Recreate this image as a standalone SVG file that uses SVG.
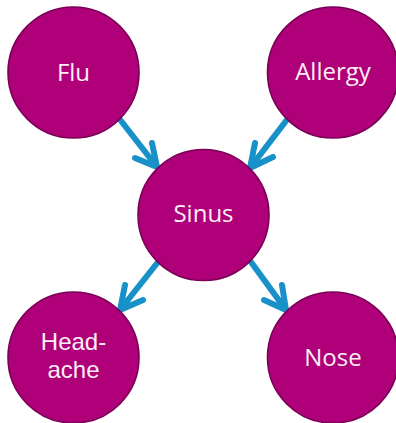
<svg xmlns="http://www.w3.org/2000/svg" width="396" height="423" viewBox="0 0 396 423">
<style>
.node circle{fill:#AF0079;stroke:#7A0056;stroke-width:1.6}
.node text{fill:#FBEFF6;font-family:"Open Sans","Liberation Sans",sans-serif;font-size:24px;text-anchor:middle}
.node text.alt{font-family:"Liberation Sans",Arial,sans-serif;font-size:24px}
.conn path{fill:none;stroke:#1890C8;stroke-width:6;stroke-linecap:round;stroke-linejoin:round}
</style>
<rect width="396" height="423" fill="#fff"/>
<g class="conn" id="connectors">
<path d="M118,117 L157,167 M152,143 L157,167 L135,158"/>
<path d="M289,117 L250,168 M255,143 L250,168 L273,157"/>
<path d="M158,262 L120,310 M125,285 L120,310 L143,300"/>
<path d="M251,262 L286,310 M282,285 L286,310 L264,300"/>
</g>
<g class="node" id="flu"><circle cx="73.5" cy="72.5" r="65.5"/><text x="73.5" y="81">Flu</text></g>
<g class="node" id="allergy"><circle cx="333" cy="72.5" r="65.5"/><text x="333" y="80">Allergy</text></g>
<g class="node" id="sinus"><circle cx="203.5" cy="215" r="65.5"/><text x="203.5" y="222">Sinus</text></g>
<g class="node" id="headache"><circle cx="73.5" cy="357.5" r="65.5"/><text class="alt" x="73.5" y="350">Head-<tspan x="73.5" y="378">ache</tspan></text></g>
<g class="node" id="nose"><circle cx="333" cy="357.5" r="65.5"/><text x="333" y="366">Nose</text></g>
</svg>
